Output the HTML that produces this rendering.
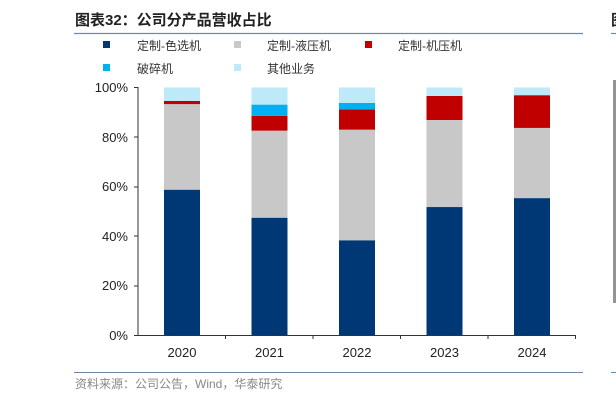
<!DOCTYPE html>
<html><head><meta charset="utf-8"><style>
body{margin:0;width:616px;height:403px;background:#fff;overflow:hidden;font-family:"Liberation Sans","Noto Sans CJK SC",sans-serif;}
</style></head><body>
<svg width="616" height="403" xmlns="http://www.w3.org/2000/svg" style="position:absolute;left:0;top:0">
<text x="75" y="25" font-size="15" font-weight="bold" fill="#222" font-family="Liberation Sans,Noto Sans CJK SC,sans-serif">图表32：公司分产品营收占比</text>
<line x1="74" y1="33.5" x2="583" y2="33.5" stroke="#6f8aa8" stroke-width="1.2"/>
<text x="611" y="25" font-size="15" font-weight="bold" fill="#222" font-family="Noto Sans CJK SC,sans-serif">图</text>
<line x1="611" y1="33.5" x2="616" y2="33.5" stroke="#6f8aa8" stroke-width="1.2"/>
<rect x="613" y="80" width="3" height="223" fill="#666" opacity="0.7"/>
<g font-size="12" fill="#333" font-family="Liberation Sans,Noto Sans CJK SC,sans-serif">
<rect x="103" y="41" width="7" height="7" fill="#003876"/><text x="137" y="50">定制-色选机</text>
<rect x="234" y="41" width="7" height="7" fill="#c8c8c8"/><text x="267" y="50">定制-液压机</text>
<rect x="365" y="41" width="7" height="7" fill="#c00000"/><text x="398" y="50">定制-机压机</text>
<rect x="103" y="64" width="7" height="7" fill="#00b0f0"/><text x="137" y="73">破碎机</text>
<rect x="234" y="64" width="7" height="7" fill="#bde9f8"/><text x="267" y="73">其他业务</text>
</g>
<g font-size="13" fill="#222" text-anchor="end">
<text x="128" y="92">100%</text><text x="128" y="142">80%</text><text x="128" y="191">60%</text>
<text x="128" y="241">40%</text><text x="128" y="290">20%</text><text x="128" y="340">0%</text>
</g>
<line x1="138" y1="87" x2="138" y2="336" stroke="#333"/>
<g stroke="#333"><line x1="134" y1="87.5" x2="138" y2="87.5"/><line x1="134" y1="137" x2="138" y2="137"/><line x1="134" y1="187" x2="138" y2="187"/><line x1="134" y1="236" x2="138" y2="236"/><line x1="134" y1="286" x2="138" y2="286"/></g>
<g id="bars"></g>
<line x1="134" y1="335.5" x2="576" y2="335.5" stroke="#333"/>
<g stroke="#333"><line x1="225.5" y1="335" x2="225.5" y2="339"/><line x1="313" y1="335" x2="313" y2="339"/><line x1="400.5" y1="335" x2="400.5" y2="339"/><line x1="488" y1="335" x2="488" y2="339"/><line x1="575.5" y1="335" x2="575.5" y2="339"/></g>
<g font-size="13" fill="#222" text-anchor="middle">
<text x="182" y="357">2020</text><text x="269.5" y="357">2021</text><text x="357" y="357">2022</text><text x="444.5" y="357">2023</text><text x="532" y="357">2024</text>
</g>
<line x1="74" y1="372.5" x2="583" y2="372.5" stroke="#6f8aa8" stroke-width="1"/>
<line x1="611" y1="372.5" x2="616" y2="372.5" stroke="#6f8aa8" stroke-width="1"/>
<text x="75" y="388" font-size="12" fill="#888" font-family="Liberation Sans,Noto Sans CJK SC,sans-serif">资料来源：公司公告，Wind，华泰研究</text>
</svg>
<script>
var d=[[58.8,93.3,94.6,94.6],[47.5,82.6,88.6,93.1],[38.4,83,91.2,93.8],[51.8,86.9,96.6,96.6],[55.4,83.7,96.9,96.9]];
var c=["#003876","#c8c8c8","#c00000","#00b0f0","#bde9f8"];
var s="";
d.forEach(function(v,i){var cx=182+87.5*i,x=cx-18;var vals=[0].concat(v).concat([100]);
for(var k=0;k<5;k++){var y1=335.5-2.48*vals[k+1],y0=335.5-2.48*vals[k];if(y0-y1>0)s+='<rect x="'+x+'" y="'+y1+'" width="36" height="'+(y0-y1)+'" fill="'+c[k]+'"/>';}});
document.getElementById("bars").innerHTML=s;
</script>
</body></html>
